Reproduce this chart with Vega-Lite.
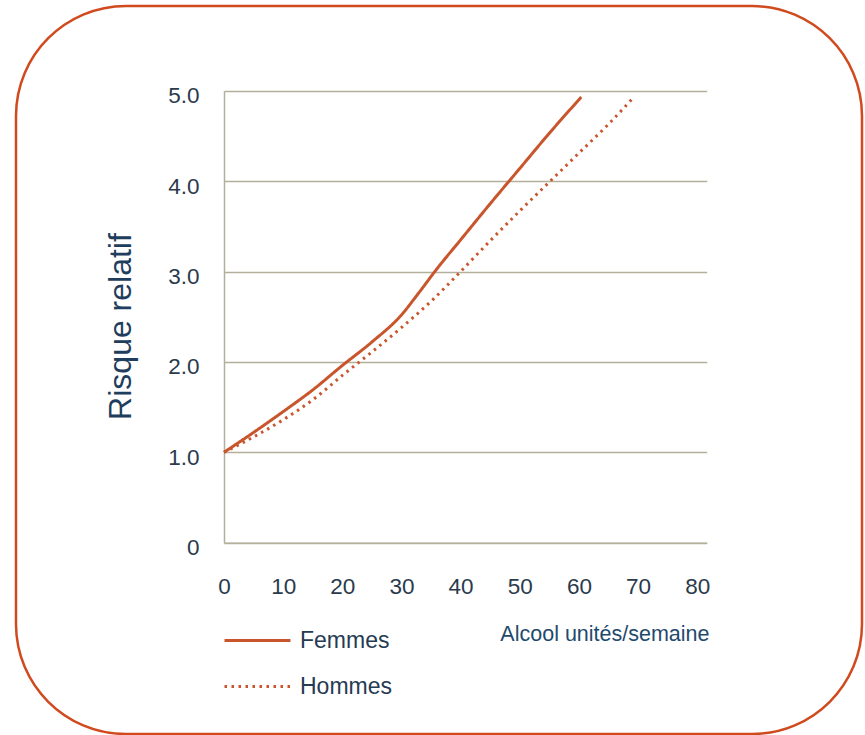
{
  "$schema": "https://vega.github.io/schema/vega-lite/v6.json",
  "width": 846,
  "height": 728,
  "padding": {"left": 16, "top": 6, "right": 3, "bottom": 1},
  "autosize": {"type": "none"},
  "background": "white",
  "config": {
    "view": {"stroke": "#D04A1E", "strokeWidth": 2.5, "cornerRadius": 110, "fill": "white"},
    "font": "Liberation Sans"
  },
  "data": {
    "values": [
      {"x": 0, "y": 1.0, "sexe": "Femmes"},
      {"x": 5, "y": 1.22, "sexe": "Femmes"},
      {"x": 10, "y": 1.45, "sexe": "Femmes"},
      {"x": 15, "y": 1.69, "sexe": "Femmes"},
      {"x": 20, "y": 1.96, "sexe": "Femmes"},
      {"x": 25, "y": 2.22, "sexe": "Femmes"},
      {"x": 30, "y": 2.52, "sexe": "Femmes"},
      {"x": 33, "y": 2.77, "sexe": "Femmes"},
      {"x": 36, "y": 3.03, "sexe": "Femmes"},
      {"x": 40, "y": 3.35, "sexe": "Femmes"},
      {"x": 45, "y": 3.75, "sexe": "Femmes"},
      {"x": 50, "y": 4.14, "sexe": "Femmes"},
      {"x": 55, "y": 4.53, "sexe": "Femmes"},
      {"x": 60.4, "y": 4.93, "sexe": "Femmes"},
      {"x": 0, "y": 1.0, "sexe": "Hommes"},
      {"x": 5, "y": 1.17, "sexe": "Hommes"},
      {"x": 10, "y": 1.36, "sexe": "Hommes"},
      {"x": 15, "y": 1.58, "sexe": "Hommes"},
      {"x": 20, "y": 1.85, "sexe": "Hommes"},
      {"x": 25, "y": 2.11, "sexe": "Hommes"},
      {"x": 30, "y": 2.38, "sexe": "Hommes"},
      {"x": 35, "y": 2.67, "sexe": "Hommes"},
      {"x": 40, "y": 3.0, "sexe": "Hommes"},
      {"x": 45, "y": 3.34, "sexe": "Hommes"},
      {"x": 50, "y": 3.67, "sexe": "Hommes"},
      {"x": 55, "y": 3.99, "sexe": "Hommes"},
      {"x": 60, "y": 4.31, "sexe": "Hommes"},
      {"x": 65, "y": 4.63, "sexe": "Hommes"},
      {"x": 69.3, "y": 4.93, "sexe": "Hommes"}
    ]
  },
  "mark": {"type": "line", "color": "#C8552B", "strokeWidth": 3, "interpolate": "monotone", "clip": false},
  "encoding": {
    "x": {
      "field": "x",
      "type": "quantitative",
      "scale": {"domain": [0, 81.6], "range": [208, 690.7], "nice": false, "zero": false},
      "axis": {
        "orient": "bottom",
        "offset": -191.3,
        "values": [0, 10, 20, 30, 40, 50, 60, 70, 80],
        "grid": false,
        "ticks": false,
        "domain": true,
        "domainColor": "#B4AF9C",
        "domainWidth": 1.5,
        "labelFontSize": 22.5,
        "labelColor": "#2A3A4C",
        "labelBaseline": "middle",
        "labelPadding": 44,
        "labelFlush": false,
        "title": "Alcool unités/semaine",
        "titleFontSize": 21.5,
        "titleFontWeight": "normal",
        "titleColor": "#1F4A6E",
        "titleAlign": "right",
        "titleAnchor": null,
        "titleBaseline": "middle",
        "titleX": 693,
        "titleY": 92
      }
    },
    "y": {
      "field": "y",
      "type": "quantitative",
      "scale": {"domain": [0, 5], "range": [536.7, 84.7], "nice": false, "zero": false},
      "axis": {
        "orient": "left",
        "offset": -208,
        "values": [0, 1, 2, 3, 4, 5],
        "labelExpr": "datum.value == 0 ? '0' : format(datum.value, '.1f')",
        "grid": true,
        "gridColor": "#B4AF9C",
        "gridWidth": 1.5,
        "ticks": false,
        "domain": true,
        "domainColor": "#B4AF9C",
        "domainWidth": 1.5,
        "labelFontSize": 22.5,
        "labelColor": "#2A3A4C",
        "labelBaseline": "middle",
        "labelPadding": 25,
        "labelOffset": 5,
        "labelFlush": false,
        "title": "Risque relatif",
        "titleFontSize": 32,
        "titleFontWeight": "normal",
        "titleColor": "#1F3D5C",
        "titleAngle": 270,
        "titleAlign": "center",
        "titleAnchor": null,
        "titleBaseline": "alphabetic",
        "titleX": -94,
        "titleY": 320
      }
    },
    "strokeDash": {
      "field": "sexe",
      "type": "nominal",
      "scale": {"domain": ["Femmes", "Hommes"], "range": [[1, 0], [2.5, 4.5]]},
      "legend": {
        "orient": "none",
        "legendX": 229,
        "legendY": 622,
        "title": null,
        "padding": 0,
        "symbolType": "M-3,0H3",
        "symbolSize": 484,
        "symbolStrokeColor": "#C8552B",
        "symbolStrokeWidth": 3,
        "labelFontSize": 23,
        "labelColor": "#263B52",
        "labelOffset": 30,
        "rowPadding": 21
      }
    }
  }
}
